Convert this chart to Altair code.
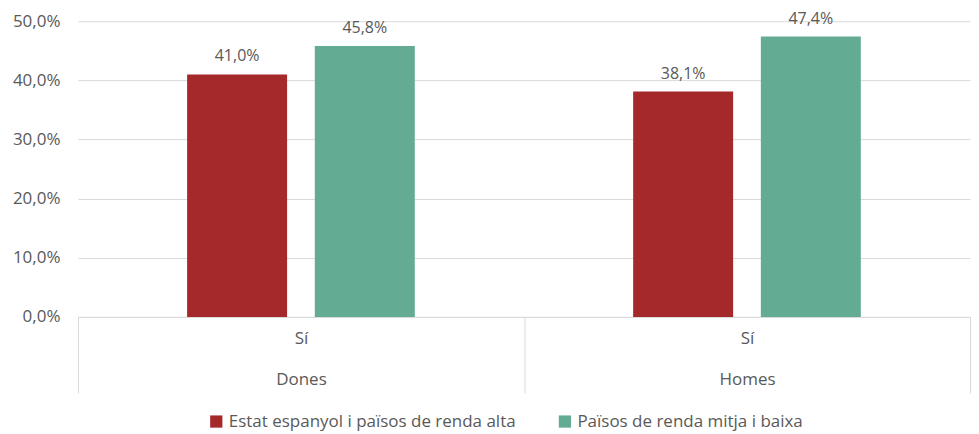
import altair as alt
import pandas as pd

groups = ["Dones", "Homes"]
series = ["Estat espanyol i països de renda alta", "Països de renda mitja i baixa"]
values_high = [41.0, 38.1]
values_low = [45.8, 47.4]
colors = ["#A5292A", "#63AC93"]
y_ticks = [0, 10, 20, 30, 40, 50]

rows = []
for g, a, b in zip(groups, values_high, values_low):
    rows.append({"grup": g, "serie": series[0], "valor": a})
    rows.append({"grup": g, "serie": series[1], "valor": b})
df = pd.DataFrame(rows)
df["etiqueta"] = df["valor"].map(lambda v: f"{v:.1f}".replace(".", ",") + "%")

FONT = "Open Sans"
GREY = "#595959"
LINE = "#D9D9D9"

x_enc = alt.X(
    "grup:N",
    sort=groups,
    scale=alt.Scale(paddingInner=0, paddingOuter=0),
    axis=alt.Axis(
        title=None,
        labelAngle=0,
        tickBand="extent",
        tickSize=76,
        tickColor=LINE,
        domainColor=LINE,
        labelExpr="isValid(datum.value) && datum.value != '' ? ['Sí', datum.value] : ''",
        labelLineHeight=41,
        labelFontSize=17,
        labelColor=GREY,
        labelFont=FONT,
        labelPadding=-62,
        labelBaseline="top",
        grid=False,
    ),
)
xoff = alt.XOffset(
    "serie:N",
    sort=series,
    scale=alt.Scale(paddingInner=0.217, paddingOuter=0.855),
)
y_enc = alt.Y(
    "valor:Q",
    scale=alt.Scale(domain=[0, 50]),
    axis=alt.Axis(
        title=None,
        values=y_ticks,
        labelExpr="replace(format(datum.value, '.1f'), '.', ',') + '%'",
        domain=False,
        ticks=False,
        grid=True,
        gridColor=LINE,
        labelFontSize=17,
        labelColor=GREY,
        labelFont=FONT,
        labelPadding=18,
    ),
)

bars = alt.Chart(df).mark_bar().encode(
    x=x_enc,
    xOffset=xoff,
    y=y_enc,
    color=alt.Color(
        "serie:N",
        sort=series,
        scale=alt.Scale(domain=series, range=colors),
        legend=alt.Legend(
            title=None,
            orient="none",
            legendX=130,
            legendY=392,
            direction="horizontal",
            symbolType="square",
            symbolSize=150,
            symbolStrokeWidth=0,
            symbolOffset=0,
            labelOffset=4,
            labelFontSize=17,
            labelColor=GREY,
            labelFont=FONT,
            labelLimit=0,
            columnPadding=40,
        ),
    ),
)

labels = alt.Chart(df).mark_text(
    baseline="bottom", dy=-10, fontSize=16, color=GREY, font=FONT
).encode(
    x=alt.X("grup:N", sort=groups),
    xOffset=alt.XOffset("serie:N", sort=series),
    y="valor:Q",
    text="etiqueta:N",
)

chart = (
    alt.layer(bars, labels)
    .properties(width=893, height=296, padding={"left": 4, "top": 2, "right": 0, "bottom": 2})
    .configure_view(stroke=None)
)

chart.save("out.html", embed_options={"renderer": "svg", "actions": False})
